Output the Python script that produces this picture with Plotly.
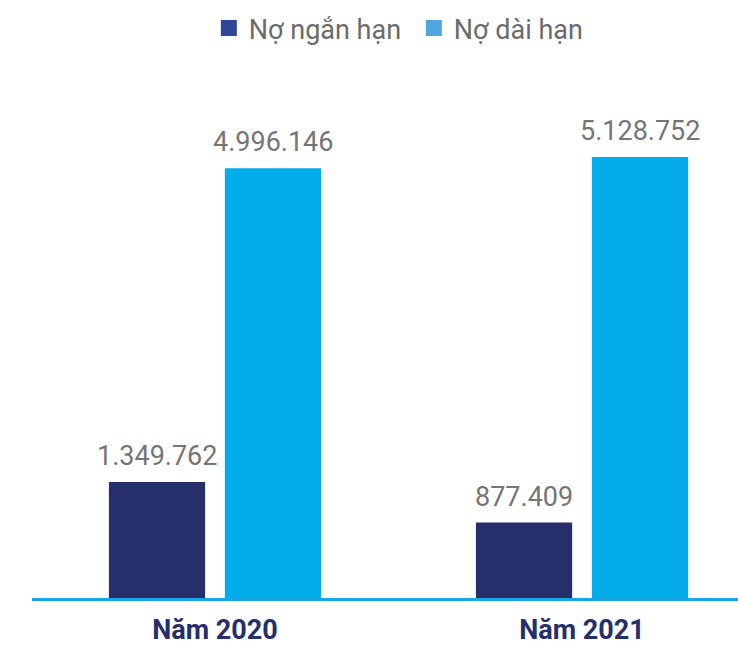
import plotly.graph_objects as go

# Debt structure by year (values in the report's units)
years = ["Năm 2020", "Năm 2021"]
short_term = [1349762, 877409]   # Nợ ngắn hạn
long_term = [4996146, 5128752]   # Nợ dài hạn
series_names = ["Nợ ngắn hạn", "Nợ dài hạn"]


def vn_number(v):
    return f"{v:,}".replace(",", ".")


BAR_COLORS = ["#262e6b", "#03adec"]
LEGEND_COLORS = ["#2f4797", "#4fa7e0"]
LABEL_GREY = "#757575"
FONT = "Roboto"

fig = go.Figure()

for name, vals, col in zip(series_names, [short_term, long_term], BAR_COLORS):
    fig.add_trace(go.Bar(
        x=years, y=vals, name=name, marker=dict(color=col, line=dict(width=0)),
        showlegend=False, hoverinfo="skip",
    ))

# Legend entries drawn with larger square swatches
for name, col in zip(series_names, LEGEND_COLORS):
    fig.add_trace(go.Scatter(
        x=[None], y=[None], mode="markers", name=name,
        marker=dict(symbol="square", size=18, color=col),
    ))

# Value labels above each bar
offset_px = 58
for vals, shift in zip([short_term, long_term], [-offset_px, offset_px]):
    for yr, v in zip(years, vals):
        fig.add_annotation(
            x=yr, y=v, text=vn_number(v), showarrow=False,
            xshift=shift, yshift=8, yanchor="bottom",
            font=dict(family=FONT, size=27, color=LABEL_GREY),
        )

fig.update_layout(
    width=738, height=647,
    margin=dict(l=32, r=0, t=60, b=49),
    paper_bgcolor="white", plot_bgcolor="white",
    barmode="group", bargap=0.368, bargroupgap=0.17,
    font=dict(family=FONT),
    legend=dict(
        orientation="h", x=0.2505, xanchor="left", y=1.104, yanchor="top",
        font=dict(family=FONT, size=27, color="#6b6b6b"),
        itemsizing="trace", tracegroupgap=0,
        entrywidth=160, entrywidthmode="pixels",
    ),
    xaxis=dict(
        type="category", range=[-0.4986, 1.425], automargin=False,
        showline=True, linecolor="#17a6e6", linewidth=3,
        showgrid=False, zeroline=False, ticks="", ticklabelstandoff=6,
        tickfont=dict(family=FONT, size=27, color="#262e6b", weight="bold"),
    ),
    yaxis=dict(
        range=[0, 6256000], showgrid=False, zeroline=False, automargin=False,
        showticklabels=False, showline=False,
    ),
)

fig.write_html("out.html")
